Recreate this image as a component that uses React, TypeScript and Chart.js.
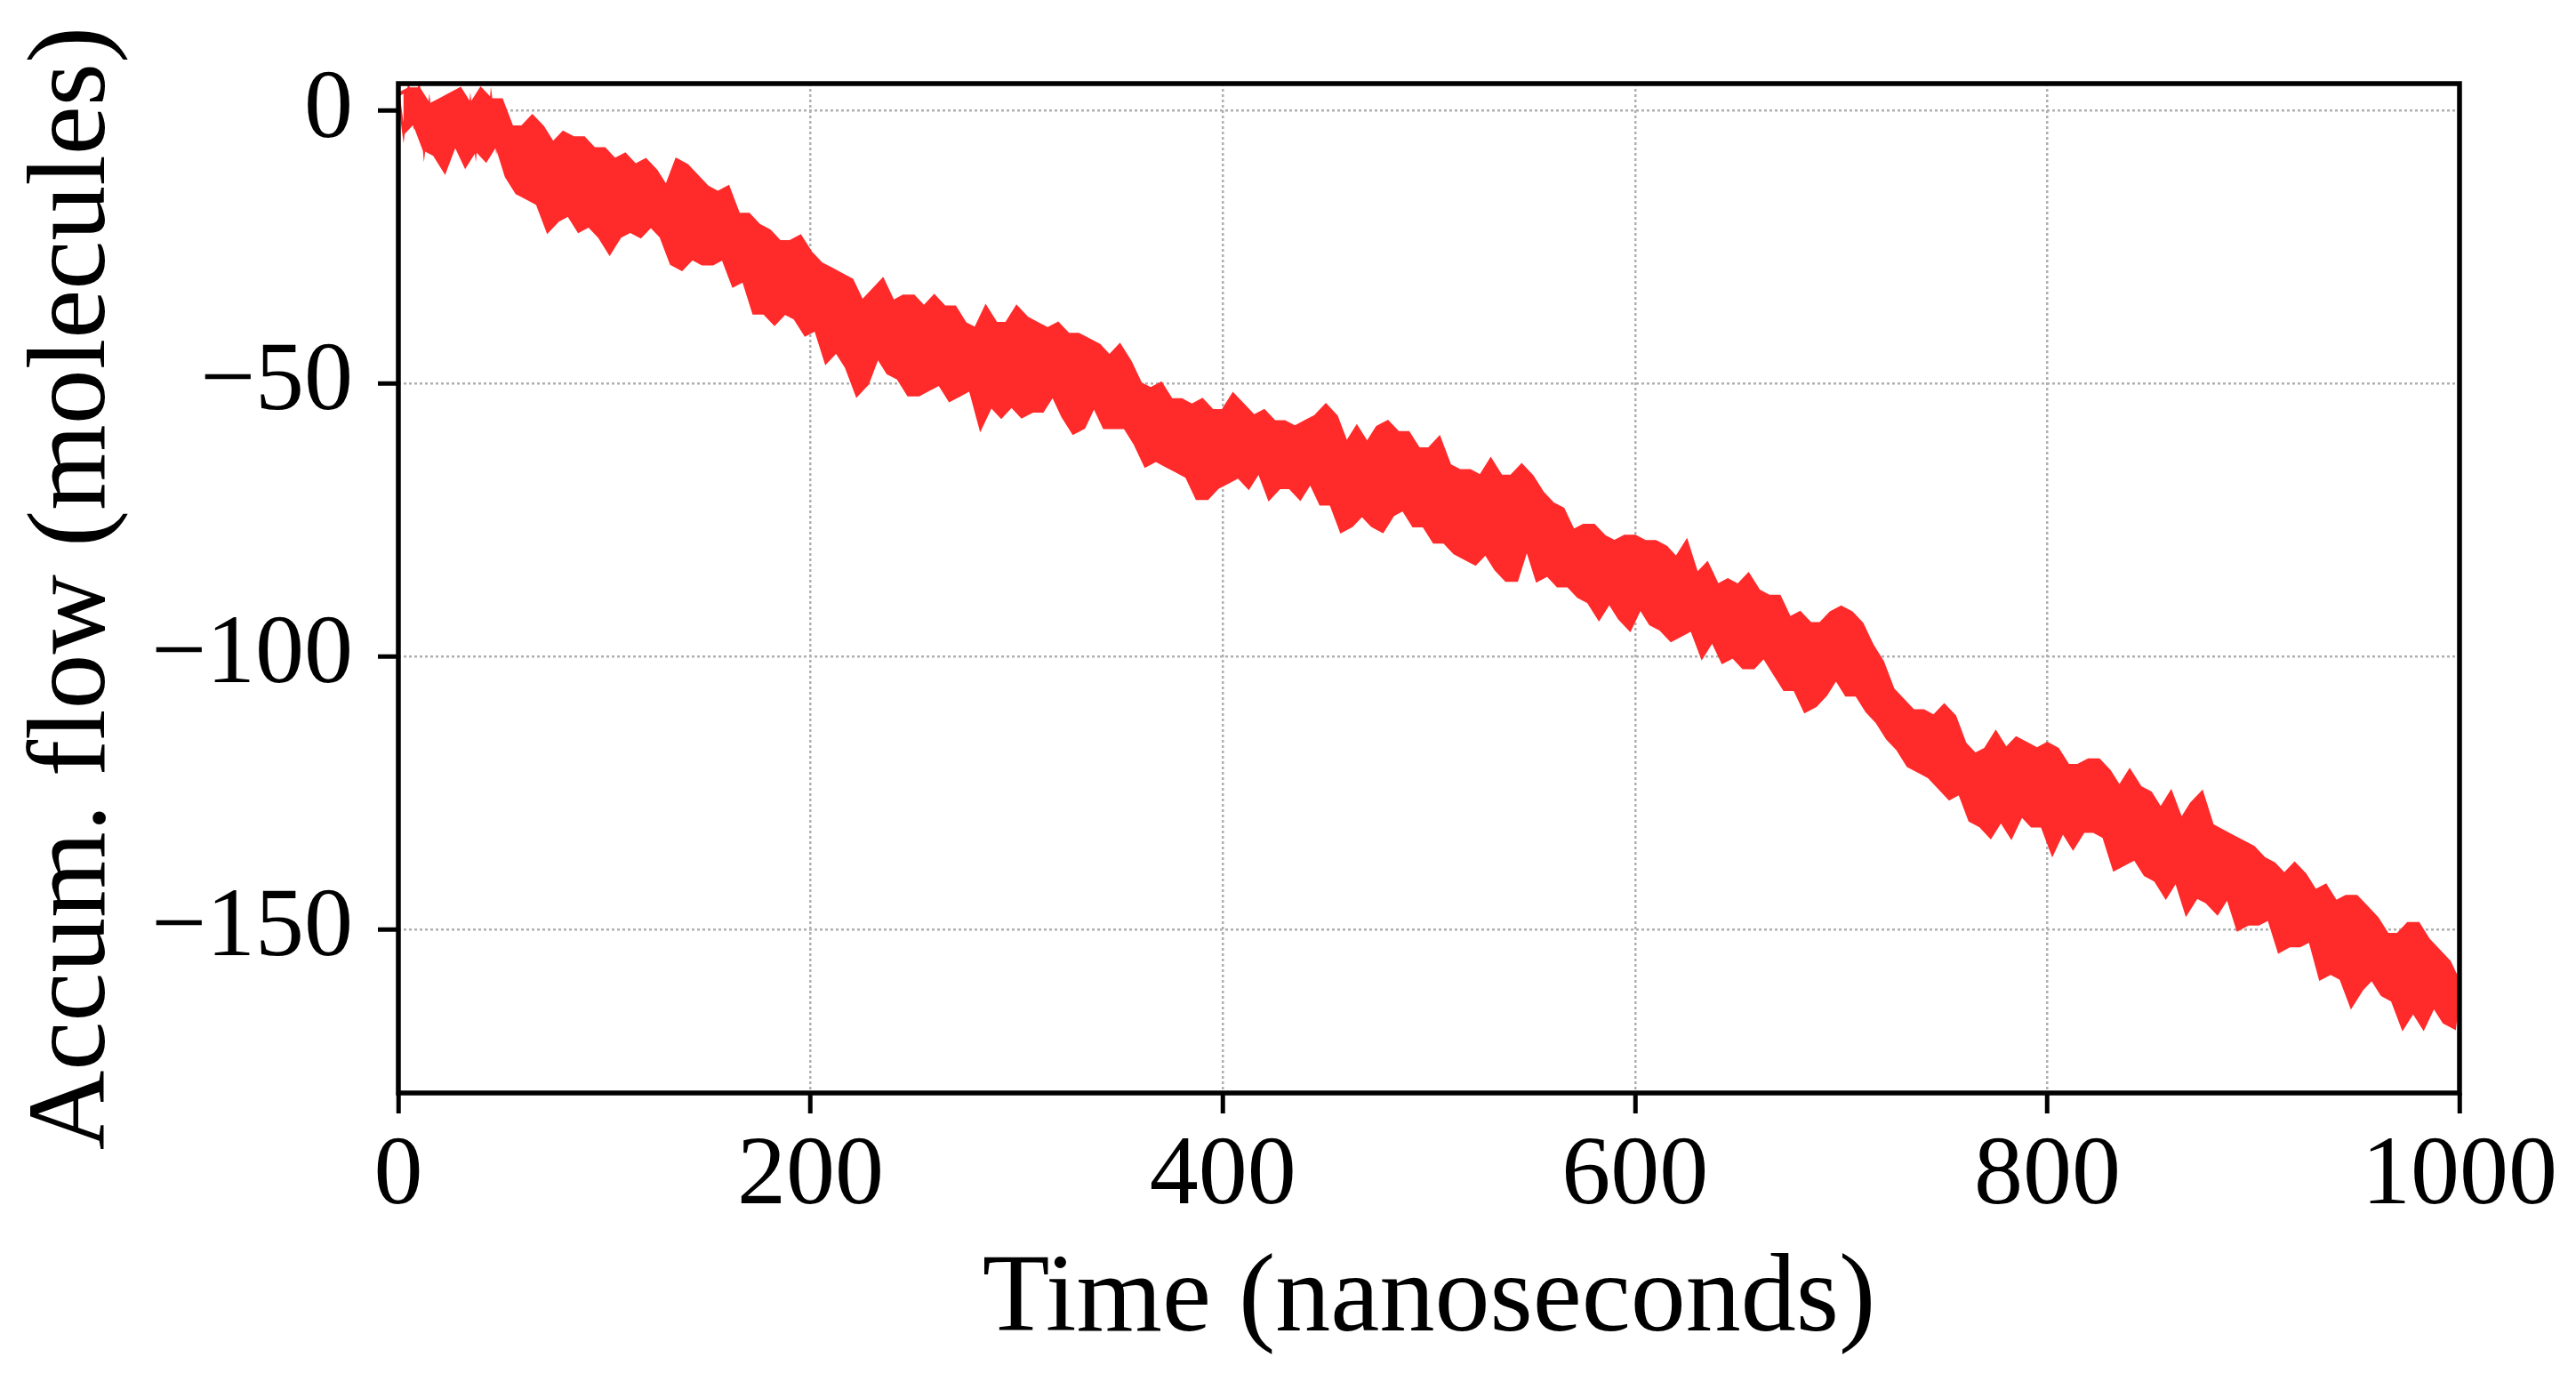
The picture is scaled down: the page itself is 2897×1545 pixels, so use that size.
import React, { useEffect, useRef } from 'react';
import Chart from 'chart.js/auto';

const timeStepNs = 2.5;
const flowTrace = [
  3, -4, 4, -2, 4, -7, 1, -8, 2, -11, 3, -6, 4, -10, 1, -7, 4, -9, 2, -6,
  2, -12, -3, -15, -3, -16, -1, -17, -3, -22, -6, -20, -4, -19, -5, -22, -5, -21, -7, -23,
  -7, -26, -9, -23, -8, -22, -10, -23, -9, -21, -11, -23, -14, -28, -9, -29, -10, -27, -12, -28,
  -14, -28, -15, -27, -14, -32, -19, -31, -19, -37, -21, -37, -22, -39, -24, -37, -24, -38, -23, -41,
  -26, -40, -28, -46, -29, -44, -30, -47, -31, -52, -35, -50, -33, -45, -31, -48, -35, -49, -34, -52,
  -34, -52, -36, -51, -34, -50, -36, -53, -36, -52, -39, -51, -40, -58, -36, -54, -39, -56, -39, -54,
  -36, -56, -38, -55, -39, -55, -40, -52, -39, -56, -41, -59, -41, -58, -42, -54, -43, -58, -45, -58,
  -43, -58, -46, -61, -50, -65, -51, -64, -50, -65, -53, -66, -53, -67, -54, -71, -53, -71, -55, -69,
  -55, -68, -52, -67, -54, -69, -56, -66, -55, -71, -57, -69, -57, -69, -58, -71, -57, -68, -56, -72,
  -54, -72, -56, -77, -61, -76, -58, -74, -61, -76, -58, -77, -57, -74, -59, -73, -59, -76, -62, -76,
  -62, -79, -60, -79, -65, -81, -66, -82, -66, -83, -67, -81, -64, -84, -67, -86, -67, -86, -65, -80,
  -67, -86, -70, -85, -72, -87, -73, -87, -77, -89, -76, -90, -76, -93, -78, -90, -79, -93, -78, -95,
  -78, -91, -79, -94, -79, -95, -80, -97, -82, -96, -79, -95, -85, -100, -83, -97, -87, -101, -86, -100,
  -87, -102, -85, -102, -88, -100, -89, -103, -89, -106, -93, -106, -92, -110, -94, -109, -94, -107, -92, -104,
  -91, -107, -92, -107, -94, -110, -98, -112, -101, -115, -106, -117, -108, -120, -110, -121, -110, -122, -111, -124,
  -109, -126, -111, -125, -116, -130, -118, -131, -117, -133, -114, -130, -117, -133, -115, -129, -116, -131, -117, -131,
  -116, -136, -117, -132, -120, -135, -120, -132, -119, -132, -119, -133, -121, -139, -124, -138, -121, -137, -124, -140,
  -125, -141, -128, -144, -125, -141, -130, -147, -127, -144, -125, -145, -131, -147, -132, -144, -133, -150, -134, -149,
  -135, -149, -137, -148, -138, -154, -140, -153, -138, -153, -140, -152, -143, -159, -142, -158, -145, -159, -144, -164,
  -144, -161, -146, -159, -148, -162, -151, -163, -151, -168, -149, -165, -149, -168, -152, -164, -154, -167, -156, -168,
  -160,
];

const xTicks = [0, 200, 400, 600, 800, 1000];
const yTicks = [0, -50, -100, -150];
const xTitle = 'Time (nanoseconds)';
const yTitle = 'Accum. flow (molecules)';

const serif = '"Liberation Serif", "Times New Roman", serif';
const traceRed = '#ff2a2a';

const frame = {
  id: 'frame',
  afterDraw(chart: Chart) {
    const { ctx, chartArea } = chart;
    ctx.save();
    ctx.strokeStyle = '#000';
    ctx.lineWidth = 5.5;
    ctx.strokeRect(chartArea.left, chartArea.top, chartArea.right - chartArea.left, chartArea.bottom - chartArea.top);
    ctx.restore();
  },
};

const FlowChart = () => {
  const canvasRef = useRef<HTMLCanvasElement>(null);

  useEffect(() => {
    const canvas = canvasRef.current;
    let chart: Chart | null = null;

    const points = flowTrace.map((v, i) => ({ x: i * timeStepNs, y: v }));
    // crests and troughs of the noisy trace; the gap between them is filled
    const crests = points.filter((_, i) => i % 2 === 0);
    const troughs = points.filter((_, i) => i % 2 === 1 || i === points.length - 1);

    const tickGrid = {
      color: '#b0b0b0',
      lineWidth: 2.5,
      tickColor: '#000',
      tickWidth: 5,
      tickLength: 23,
    };

    if (canvas) {
      chart = new Chart(canvas, {
        type: 'line',
        data: {
          datasets: [
            {
              data: crests,
              borderColor: traceRed,
              backgroundColor: traceRed,
              borderWidth: 4,
              pointRadius: 0,
              tension: 0,
              fill: '+1',
            },
            {
              data: troughs,
              borderColor: traceRed,
              borderWidth: 4,
              pointRadius: 0,
              tension: 0,
              fill: false,
            },
            {
              data: points,
              borderColor: traceRed,
              borderWidth: 3,
              pointRadius: 0,
              tension: 0,
              fill: false,
            },
          ],
        },
        options: {
          animation: false,
          responsive: true,
          maintainAspectRatio: false,
          devicePixelRatio: 1,
          layout: { padding: { top: 77, right: 131, left: 0, bottom: 0 } },
          plugins: {
            legend: { display: false },
            tooltip: { enabled: false },
          },
          scales: {
            x: {
              type: 'linear',
              min: 0,
              max: 1000,
              afterBuildTicks: (scale: any) => {
                scale.ticks = xTicks.map((value) => ({ value }));
              },
              afterFit: (scale: any) => {
                scale.height = 316;
              },
              ticks: {
                color: '#000',
                padding: 6,
                maxRotation: 0,
                font: { family: serif, size: 110 },
                callback: (value: any) => String(value),
              },
              grid: tickGrid,
              border: { display: false, dash: [3, 3] },
              title: {
                display: true,
                text: xTitle,
                color: '#000',
                padding: { top: 0, bottom: 7 },
                font: { family: serif, size: 124 },
              },
            },
            y: {
              type: 'linear',
              min: -180,
              max: 5,
              afterBuildTicks: (scale: any) => {
                scale.ticks = yTicks.map((value) => ({ value }));
              },
              afterFit: (scale: any) => {
                scale.width = 448;
              },
              ticks: {
                color: '#000',
                padding: 28,
                font: { family: serif, size: 110 },
                callback: (value: any) => (value < 0 ? '\u2212' + Math.abs(value) : String(value)),
              },
              grid: tickGrid,
              border: { display: false, dash: [3, 3] },
              title: {
                display: true,
                text: yTitle,
                color: '#000',
                padding: { top: 10, bottom: 0 },
                font: { family: serif, size: 124 },
              },
            },
          },
        },
        plugins: [frame],
      });
    }

    return () => {
      if (chart) {
        chart.destroy();
      }
    };
  }, []);

  return (
    <div style={{ position: 'absolute', left: 0, top: 0, width: 2897, height: 1545, background: '#fff' }}>
      <canvas ref={canvasRef}></canvas>
    </div>
  );
};

export default function App() {
  return <FlowChart />;
}
